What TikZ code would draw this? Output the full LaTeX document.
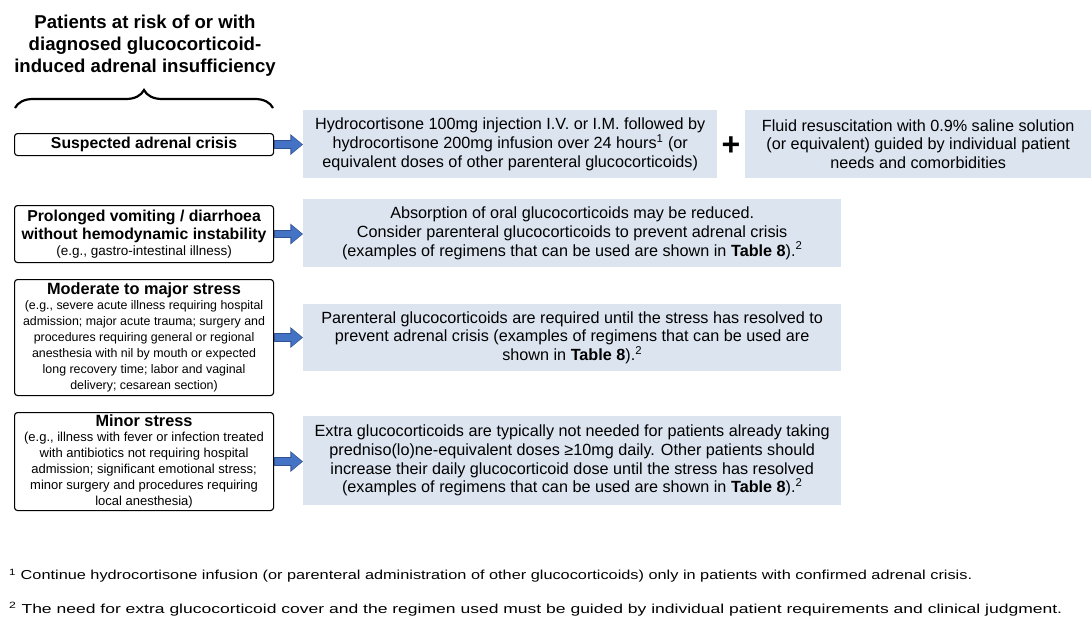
\documentclass[tikz,border=0pt]{standalone}
\usepackage{fontspec}
\usepackage{graphicx}
\setmainfont{Liberation Sans}
\usetikzlibrary{arrows.meta,decorations.pathreplacing}
\definecolor{boxblue}{HTML}{DCE4F0}
\definecolor{arrowblue}{HTML}{4472C4}
\definecolor{arrowedge}{HTML}{2F528F}
\begin{document}
\begin{tikzpicture}[x=1pt,y=-1pt,
 lbox/.style={draw=black, line width=1.1pt, rounded corners=3pt, fill=white, align=center, inner sep=0pt, anchor=north west, font=\fontsize{13}{16}\selectfont},
 gbox/.style={fill=boxblue, align=center, inner sep=0pt, anchor=north west, font=\fontsize{16.2}{18.7}\selectfont},
 barrowedge/.style={line width=8.4pt, draw=arrowedge, -{Triangle[length=12.6pt,width=20pt]}},
 barrow/.style={line width=6.4pt, draw=arrowblue, -{Triangle[length=10.6pt,width=17pt]}}
]
\useasboundingbox (0,0) rectangle (1091,623);
% title
\node[align=center, font=\bfseries\fontsize{18.6}{22}\selectfont] (title) at (145,46)
 {Patients at risk of or with\\ diagnosed glucocorticoid-\\ induced adrenal insufficiency};
\draw[line width=2.2pt, decorate, decoration={brace, amplitude=18pt, aspect=0.5}] (15,108) -- (273,108);
% left boxes
\node[lbox, minimum width=259pt, minimum height=22pt] (b1) at (14,133)
 {{\bfseries\fontsize{15.8}{17}\selectfont Suspected adrenal crisis}};
\node[lbox, minimum width=259pt, minimum height=57pt] (b2) at (14,205)
 {{\bfseries\fontsize{15.8}{18}\selectfont Prolonged vomiting / diarrhoea}\\[2pt]
  {\bfseries\fontsize{15.8}{18}\selectfont without hemodynamic instability}\\
  {\fontsize{13.5}{16}\selectfont (e.g., gastro-intestinal illness)}};
\node[lbox, minimum width=259pt, minimum height=116pt, font=\fontsize{12.4}{16}\selectfont] (b3) at (14,279)
 {{\bfseries\fontsize{16.3}{18}\selectfont Moderate to major stress}\\[-1pt]
  (e.g., severe acute illness requiring hospital\\
  admission; major acute trauma; surgery and\\
  procedures requiring general or regional\\
  anesthesia with nil by mouth or expected\\
  long recovery time; labor and vaginal\\
  delivery; cesarean section)};
\node[lbox, minimum width=259pt, minimum height=98pt] (b4) at (14,412)
 {{\bfseries\fontsize{16.3}{18}\selectfont Minor stress}\\[-1pt]
  (e.g., illness with fever or infection treated\\
  with antibiotics not requiring hospital\\
  admission; significant emotional stress;\\
  minor surgery and procedures requiring\\
  local anesthesia)};
% blue boxes
\node[gbox, minimum width=414pt, minimum height=68pt] (g1) at (303,110)
 {Hydrocortisone 100mg injection I.V. or I.M. followed by\\
  hydrocortisone 200mg infusion over 24 hours\textsuperscript{1} (or\\
  equivalent doses of other parenteral glucocorticoids)};
\node[font=\bfseries\fontsize{32}{32}\selectfont, inner sep=0pt] (plus) at (731,146) {+};
\node[gbox, minimum width=346pt, minimum height=68pt] (g1b) at (745,110)
 {Fluid resuscitation with 0.9\% saline solution\\
  (or equivalent) guided by individual patient\\
  needs and comorbidities};
\node[gbox, minimum width=538pt, minimum height=68pt] (g2) at (303,199)
 {Absorption of oral glucocorticoids may be reduced.\\
  Consider parenteral glucocorticoids to prevent adrenal crisis\\
  (examples of regimens that can be used are shown in \textbf{Table 8}).\textsuperscript{2}};
\node[gbox, minimum width=538pt, minimum height=67pt] (g3) at (303,304)
 {Parenteral glucocorticoids are required until the stress has resolved to\\
  prevent adrenal crisis (examples of regimens that can be used are\\
  shown in \textbf{Table 8}).\textsuperscript{2}};
\node[gbox, minimum width=538pt, minimum height=89pt] (g4) at (303,416)
 {Extra glucocorticoids are typically not needed for patients already taking\\
  predniso(lo)ne-equivalent doses ≥10mg daily. Other patients should\\
  increase their daily glucocorticoid dose until the stress has resolved\\
  (examples of regimens that can be used are shown in \textbf{Table 8}).\textsuperscript{2}};
% arrows
\foreach \b/\g in {b1/g1,b2/g2,b3/g3,b4/g4}{
  \draw[barrowedge] (\b.east) -- (\b.east -| \g.west);
  \draw[barrow] (\b.east) ++(0.5,0) -- ([xshift=-1pt]\b.east -| \g.west);
}
% footnotes
\node[anchor=west, inner sep=0pt] (fn1) at (9,576)
 {\resizebox{963pt}{\height}{\fontsize{13}{15}\selectfont\textsuperscript{1} Continue hydrocortisone infusion (or parenteral administration of other glucocorticoids) only in patients with confirmed adrenal crisis.}};
\node[anchor=west, inner sep=0pt] (fn2) at (9,609)
 {\resizebox{1053pt}{\height}{\fontsize{13}{15}\selectfont\textsuperscript{2} The need for extra glucocorticoid cover and the regimen used must be guided by individual patient requirements and clinical judgment.}};
\end{tikzpicture}
\end{document}
